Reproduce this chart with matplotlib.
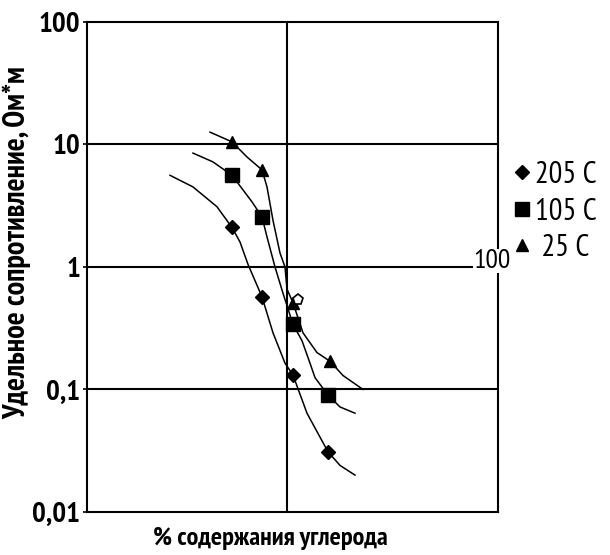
import matplotlib.pyplot as plt
from matplotlib.lines import Line2D

plt.rcParams['font.family'] = ['PT Sans Narrow', 'Fira Sans Extra Condensed', 'DejaVu Sans']

# curves (x in arbitrary units, centre line at 1.0)
x205 = [0.415, 0.53, 0.65, 0.725, 0.765, 0.805, 0.875, 0.93, 0.99, 1.03, 1.10, 1.205, 1.265, 1.34]
y205 = [5.6, 4.5, 3.1, 2.1, 1.6, 1.05, 0.57, 0.29, 0.164, 0.131, 0.064, 0.031, 0.024, 0.020]
x105 = [0.53, 0.63, 0.725, 0.825, 0.875, 0.90, 0.94, 0.98, 1.03, 1.075, 1.115, 1.14, 1.205, 1.265, 1.34]
y105 = [8.5, 7.2, 5.6, 3.4, 2.56, 1.76, 1.0, 0.61, 0.34, 0.25, 0.164, 0.125, 0.090, 0.072, 0.064]
x25 = [0.615, 0.725, 0.80, 0.875, 0.90, 0.93, 0.965, 0.99, 1.0, 1.03, 1.08, 1.15, 1.215, 1.28, 1.38]
y25 = [12.6, 10.5, 7.9, 6.2, 4.5, 2.4, 1.3, 1.0, 0.66, 0.51, 0.29, 0.20, 0.17, 0.13, 0.10]

# measured points
m205_x = [0.725, 0.875, 1.03, 1.205]
m205_y = [2.1, 0.57, 0.131, 0.031]
m105_x = [0.725, 0.875, 1.03, 1.205]
m105_y = [5.6, 2.56, 0.34, 0.090]
m25_x = [0.725, 0.875, 1.03, 1.215]
m25_y = [10.5, 6.2, 0.51, 0.17]
stray_x = [1.055]
stray_y = [0.54]

yticks = [0.01, 0.1, 1, 10, 100]
ytick_labels = ['0,01', '0,1', '1', '10', '100']

fig = plt.figure(figsize=(6.1, 5.55), dpi=100)
ax = fig.add_axes([0.1426, 0.0775, 0.6738, 0.883])

ax.set_yscale('log')
ax.set_ylim(0.01, 100)
ax.set_xlim(0, 2.055)

for yv in [0.1, 1, 10]:
    ax.axhline(yv, color='black', lw=1.5, zorder=1)
ax.axvline(1.0, color='black', lw=1.5, zorder=1)

ax.plot(x205, y205, color='black', lw=1.1, zorder=2)
ax.plot(x105, y105, color='black', lw=1.1, zorder=2)
ax.plot(x25, y25, color='black', lw=1.1, zorder=2)
ax.plot(m205_x, m205_y, 'D', color='black', ms=7, zorder=3)
ax.plot(m105_x, m105_y, 's', color='black', ms=10, zorder=3)
ax.plot(m25_x, m25_y, '^', color='black', ms=9, zorder=3)
ax.plot(stray_x, stray_y, 'p', mfc='white', mec='black', mew=1.2, ms=8, zorder=4)

for s in ax.spines.values():
    s.set_linewidth(1.5)

ax.set_yticks(yticks)
ax.set_yticklabels(ytick_labels, fontsize=21, fontweight='bold')
ax.yaxis.set_minor_locator(plt.NullLocator())
ax.tick_params(axis='y', length=3, width=1.2, pad=2)
ax.set_xticks([])

ax.set_ylabel('Удельное сопротивление, Ом*м', fontsize=22, fontweight='bold')
ax.yaxis.set_label_coords(-0.135, 0.55)
ax.set_xlabel('% содержания углерода', fontsize=19, fontweight='bold')
ax.xaxis.set_label_coords(0.445, -0.03)

# stray label at right edge
fig.text(492 / 610, 1 - 261 / 555, '100', fontsize=20, ha='center', va='center',
         bbox=dict(facecolor='white', edgecolor='none', pad=0.3))

handles = [Line2D([], [], ls='none', marker='D', color='black', ms=7),
           Line2D([], [], ls='none', marker='s', color='black', ms=10),
           Line2D([], [], ls='none', marker='^', color='black', ms=8)]
fig.legend(handles, ['205 C', '105 C', ' 25 C'], loc='upper left',
           bbox_to_anchor=(0.835, 0.71), frameon=False, fontsize=22,
           handletextpad=0.05, handlelength=0.8, labelspacing=0.28,
           borderpad=0, borderaxespad=0)

fig.savefig('out.png', dpi=100)
